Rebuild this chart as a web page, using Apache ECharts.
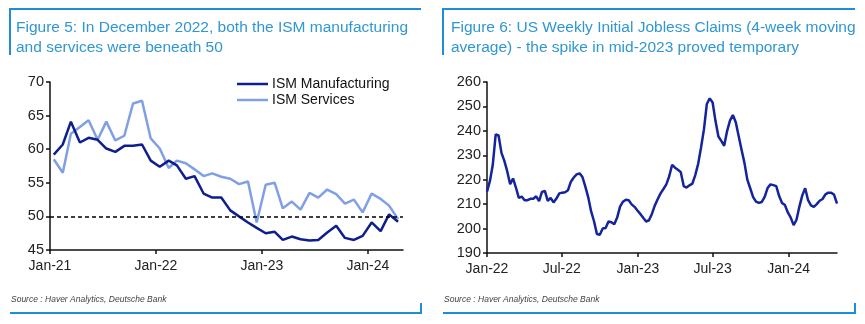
<!DOCTYPE html>
<html>
<head>
<meta charset="utf-8">
<script src="https://cdn.jsdelivr.net/npm/echarts@6/dist/echarts.min.js"></script>
<style>
  html, body { margin: 0; padding: 0; background: #fff; }
  #chart { width: 865px; height: 324px; }
</style>
</head>
<body>
<div id="chart"></div>
<script>
// ---------- Data ----------
const months = [
  '2021-01','2021-02','2021-03','2021-04','2021-05','2021-06','2021-07','2021-08','2021-09','2021-10','2021-11','2021-12',
  '2022-01','2022-02','2022-03','2022-04','2022-05','2022-06','2022-07','2022-08','2022-09','2022-10','2022-11','2022-12',
  '2023-01','2023-02','2023-03','2023-04','2023-05','2023-06','2023-07','2023-08','2023-09','2023-10','2023-11','2023-12',
  '2024-01','2024-02','2024-03','2024-04'
];
const ismManufacturing = [
  59.2, 60.7, 64.1, 61.0, 61.7, 61.4, 60.1, 59.6, 60.5, 60.5, 60.7, 58.3,
  57.4, 58.3, 57.6, 55.6, 56.0, 53.4, 52.8, 52.8, 50.9, 50.0, 49.1, 48.3,
  47.5, 47.7, 46.5, 47.0, 46.6, 46.4, 46.5, 47.6, 48.6, 46.8, 46.5, 47.1,
  49.1, 47.8, 50.3, 49.2
];
const ismServices = [
  58.5, 56.5, 62.3, 63.3, 64.3, 61.4, 64.1, 61.3, 62.0, 66.8, 67.2, 61.6,
  60.1, 57.2, 58.3, 57.9, 57.0, 56.0, 56.4, 55.9, 55.6, 54.8, 55.2, 49.1,
  54.7, 55.0, 51.2, 52.2, 51.0, 53.5, 52.8, 54.0, 53.3, 51.9, 52.5, 50.6,
  53.4, 52.6, 51.6, 49.6
];
const leftTickDates = ['2021-01-01', '2022-01-01', '2023-01-01', '2024-01-01'];
const leftYTicks = [45, 50, 55, 60, 65, 70];

// Weekly data, week ending Saturdays starting 2022-01-01
const claimsStart = '2022-01-01';
const joblessClaims = [
  215.1, 219.4, 226.1, 238.6, 238.1, 231.0, 227.7, 223.4, 218.2, 220.5,
  216.8, 212.6, 213.1, 211.6, 211.6, 212.2, 212.2, 213.2, 211.2, 215.0,
  215.4, 211.3, 212.6, 210.7, 212.3, 214.4, 214.7, 214.9, 215.7, 219.2,
  220.9, 222.2, 222.6, 221.1, 217.2, 212.8, 207.0, 203.0, 197.8, 197.5,
  200.0, 200.2, 202.9, 202.6, 201.8, 204.5, 209.0, 211.0, 211.8, 211.6,
  209.9, 208.9, 207.4, 206.0, 204.4, 202.9, 203.4, 206.0, 209.4, 212.0,
  214.4, 216.2, 218.1, 221.4, 226.1, 224.9, 224.1, 223.1, 217.4, 216.8,
  217.7, 218.4, 221.9, 226.5, 233.2, 240.6, 251.0, 253.3, 251.6, 244.0,
  237.7, 235.9, 233.9, 239.9, 244.2, 246.5, 243.5, 237.9, 232.3, 226.9,
  220.0, 216.5, 212.9, 211.0, 210.5, 210.9, 213.0, 216.6, 218.1, 217.8,
  217.4, 213.3, 210.5, 209.6, 206.6, 204.5, 201.4, 203.6, 209.0, 213.6,
  216.5, 211.6, 209.5, 208.9, 210.0, 211.4, 212.1, 214.0, 214.7, 214.7,
  213.8, 210.2
];
const rightTickDates = ['2022-01-01', '2022-07-01', '2023-01-01', '2023-07-01', '2024-01-01'];
const rightYTicks = [190, 200, 210, 220, 230, 240, 250, 260];

// ---------- Helpers ----------
const DAY = 86400000;
function ts(s) { const p = s.split('-').map(Number); return Date.UTC(p[0], p[1] - 1, p[2] || 1); }
const MN = ['Jan','Feb','Mar','Apr','May','Jun','Jul','Aug','Sep','Oct','Nov','Dec'];
function fmtDate(v) { const d = new Date(v); return MN[d.getUTCMonth()] + '-' + String(d.getUTCFullYear()).slice(2); }

const manuData = months.map((m, i) => [ts(m) + 13 * DAY, ismManufacturing[i]]);
const servData = months.map((m, i) => [ts(m) + 13 * DAY, ismServices[i]]);
const claimsData = joblessClaims.map((v, k) => [ts(claimsStart) + k * 7 * DAY, v]);

const FONT = 'Liberation Sans, Arial, sans-serif';
const AXIS_COLOR = '#111';
const DARK = '#0d1f8e';
const LIGHT = '#7f9fe6';
const FRAME = '#1f8ed4';
const TITLE = '#2f97d2';

function xAxisCommon() {
  return {
    type: 'value',
    axisLine: { show: true, lineStyle: { color: AXIS_COLOR, width: 1.5 } },
    axisTick: { show: true, length: 4, lineStyle: { color: AXIS_COLOR, width: 1.5 } },
    axisLabel: { color: '#222', fontSize: 14, fontFamily: FONT, margin: 9, formatter: fmtDate },
    splitLine: { show: false }
  };
}
function yAxisCommon() {
  return {
    type: 'value',
    axisLine: { show: true, lineStyle: { color: AXIS_COLOR, width: 1.5 } },
    axisTick: { show: true, length: 4, lineStyle: { color: AXIS_COLOR, width: 1.5 } },
    axisLabel: { color: '#222', fontSize: 14.5, fontFamily: FONT, margin: 6 },
    splitLine: { show: false }
  };
}

const xl = xAxisCommon();
Object.assign(xl, { gridIndex: 0, min: ts('2021-01-01'), max: ts('2024-05-01') });
xl.axisTick.customValues = leftTickDates.map(ts);
xl.axisLabel.customValues = leftTickDates.map(ts);

const xr = xAxisCommon();
Object.assign(xr, { gridIndex: 1, min: ts(claimsStart), max: claimsData[claimsData.length - 1][0] });
xr.axisTick.customValues = rightTickDates.map(ts);
xr.axisLabel.customValues = rightTickDates.map(ts);

const yl = yAxisCommon();
Object.assign(yl, { gridIndex: 0, min: 45, max: 70, interval: 5 });
yl.axisTick.customValues = leftYTicks;
yl.axisLabel.customValues = leftYTicks;

const yr = yAxisCommon();
Object.assign(yr, { gridIndex: 1, min: 190, max: 260, interval: 10 });
yr.axisTick.customValues = rightYTicks;
yr.axisLabel.customValues = rightYTicks;

function frame(x0, x1) {
  const st = { stroke: FRAME, lineWidth: 2 };
  return [
    { type: 'line', shape: { x1: x0, y1: 9, x2: x1, y2: 9 }, style: st, silent: true },
    { type: 'line', shape: { x1: x0, y1: 8, x2: x0, y2: 55 }, style: st, silent: true },
    { type: 'line', shape: { x1: x0, y1: 313, x2: x1 + 1, y2: 313 }, style: st, silent: true },
    { type: 'line', shape: { x1: x1, y1: 303, x2: x1, y2: 314 }, style: st, silent: true }
  ];
}
function source(x) {
  return {
    type: 'text', x: x, y: 300, silent: true,
    style: { text: 'Source : Haver Analytics, Deutsche Bank', fill: '#444', font: 'italic 8.5px ' + FONT, verticalAlign: 'middle' }
  };
}

const chart = echarts.init(document.getElementById('chart'), null, { renderer: 'canvas' });
chart.setOption({
  animation: false,
  backgroundColor: '#fff',
  title: [
    { text: 'Figure 5: In December 2022, both the ISM manufacturing\nand services were beneath 50', left: 11, top: 13,
      textStyle: { fontSize: 15.5, fontWeight: 'normal', color: TITLE, lineHeight: 20, fontFamily: FONT } },
    { text: 'Figure 6: US Weekly Initial Jobless Claims (4-week moving\naverage) - the spike in mid-2023 proved temporary', left: 446, top: 13,
      textStyle: { fontSize: 15.5, fontWeight: 'normal', color: TITLE, lineHeight: 20, fontFamily: FONT } }
  ],
  legend: {
    orient: 'vertical', left: 232, top: 72, itemWidth: 31, itemHeight: 2.5, itemGap: 2, icon: 'rect',
    textStyle: { fontSize: 14, color: '#111', fontFamily: FONT, lineHeight: 14, padding: [0, 0, 0, -1] },
    data: ['ISM Manufacturing', 'ISM Services']
  },
  grid: [
    { left: 50, top: 82, width: 353, height: 168 },
    { left: 487, top: 82, width: 350, height: 171 }
  ],
  xAxis: [xl, xr],
  yAxis: [yl, yr],
  series: [
    { name: 'ISM Manufacturing', type: 'line', xAxisIndex: 0, yAxisIndex: 0, data: manuData, symbol: 'none',
      lineStyle: { color: DARK, width: 2.5 }, itemStyle: { color: DARK }, z: 3,
      markLine: { silent: true, symbol: 'none', label: { show: false },
        lineStyle: { color: '#000', type: [4, 3], width: 1.5 }, data: [{ yAxis: 50 }] } },
    { name: 'ISM Services', type: 'line', xAxisIndex: 0, yAxisIndex: 0, data: servData, symbol: 'none',
      lineStyle: { color: LIGHT, width: 2.5 }, itemStyle: { color: LIGHT }, z: 2 },
    { name: 'Initial Jobless Claims (4wma)', type: 'line', xAxisIndex: 1, yAxisIndex: 1, data: claimsData, symbol: 'none',
      lineStyle: { color: '#14259b', width: 2.5 }, itemStyle: { color: '#14259b' } }
  ],
  graphic: [].concat(frame(10, 421), frame(443, 855), [source(11), source(444)])
});
</script>
</body>
</html>
